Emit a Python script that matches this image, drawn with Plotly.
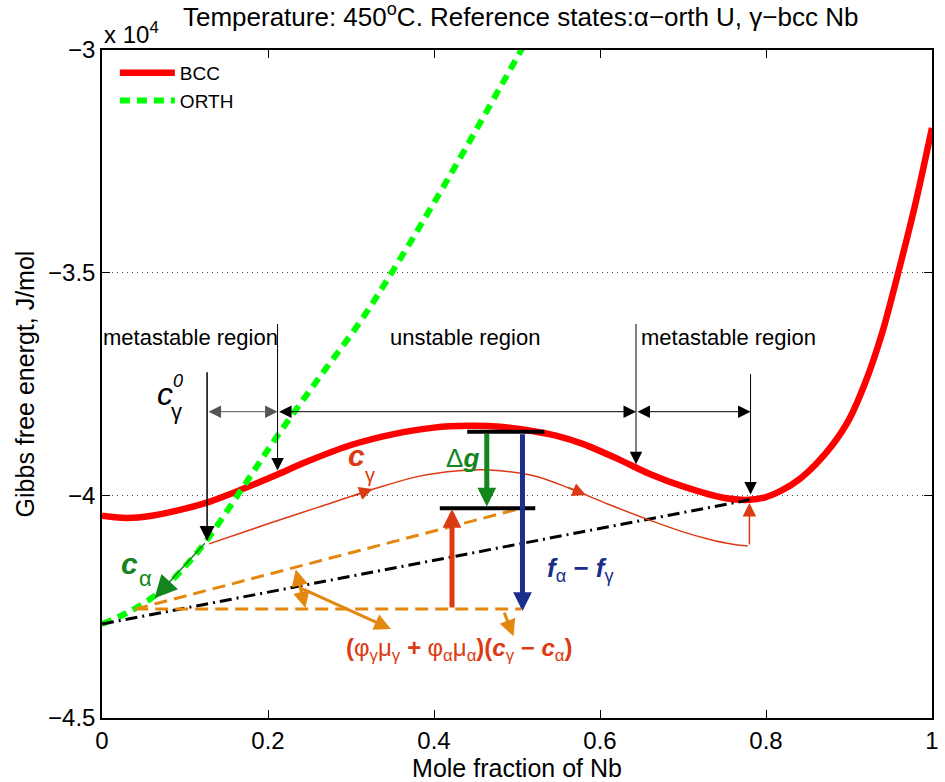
import plotly.graph_objects as go

# ---------------- data ----------------
X_BCC = [0.0, 0.03, 0.06, 0.10, 0.13, 0.16, 0.19, 0.2115, 0.25, 0.30, 0.35, 0.40, 0.44, 0.48,
         0.52, 0.547, 0.58, 0.62, 0.66, 0.70, 0.75, 0.78, 0.80, 0.82, 0.84, 0.86, 0.88,
         0.90, 0.92, 0.94, 0.96, 0.98, 1.0]
G_BCC = [-40460, -40510, -40460, -40300, -40140, -39930, -39700, -39530, -39220, -38870,
         -38630, -38480, -38440, -38460, -38560, -38660, -38850, -39170, -39520, -39800,
         -40060, -40100, -40040, -39880, -39640, -39300, -38870, -38300, -37450, -36350,
         -34950, -33450, -31750]

X_ORTH = [0.0, 0.03, 0.066, 0.10, 0.1255, 0.1685, 0.2115, 0.26, 0.312, 0.356, 0.416, 0.503, 0.55]
G_ORTH = [-42890, -42640, -42220, -41600, -41025, -39855, -38660, -37400, -36075, -34790,
          -32920, -30070, -28500]

X_TANGENT = [0.0, 0.78]
G_TANGENT = [-42890, -40100]

X_PATH = [0.129, 0.20, 0.26, 0.324, 0.38, 0.43, 0.467, 0.52, 0.567, 0.61, 0.663, 0.70, 0.73,
          0.76, 0.778]
G_PATH = [-41090, -40640, -40270, -39880, -39580, -39450, -39430, -39560, -39870, -40200,
          -40580, -40820, -40980, -41100, -41140]

X_OR_UPPER = [0.04, 0.503]
G_OR_UPPER = [-42555, -40300]
X_OR_LOWER = [0.04, 0.505]
G_OR_LOWER = [-42555, -42555]

X_SEG_TOP = [0.44, 0.533]
G_SEG_TOP = [-38570, -38570]
X_SEG_MID = [0.407, 0.522]
G_SEG_MID = [-40290, -40290]

C0_LEFT, SPIN_LEFT, SPIN_RIGHT, C0_RIGHT = 0.1266, 0.2115, 0.6434, 0.7814
X_TICKS = [0, 0.2, 0.4, 0.6, 0.8, 1.0]
X_TICKTEXT = ["0", "0.2", "0.4", "0.6", "0.8", "1"]
Y_TICKS = [-45000, -40000, -35000, -30000]
Y_TICKTEXT = ["\u22124.5", "\u22124", "\u22123.5", "\u22123"]

# ---------------- styles ----------------
FONT = "Liberation Sans, Arial, Helvetica, sans-serif"
RED = "#ff0000"
LIME = "#00ff00"
PATHRED = "#dc3a12"
ORANGE = "#e3870f"
DGREEN = "#12851c"
BLUE = "#1c2d8c"

fig = go.Figure()
fig.add_trace(go.Scatter(x=X_BCC, y=G_BCC, mode="lines", name="BCC",
                         line=dict(color=RED, width=6.5, shape="spline", smoothing=0.8)))
fig.add_trace(go.Scatter(x=X_ORTH, y=G_ORTH, mode="lines", name="ORTH",
                         line=dict(color=LIME, width=6, dash="10px,7px", shape="spline")))
fig.add_trace(go.Scatter(x=X_TANGENT, y=G_TANGENT, mode="lines", showlegend=False,
                         line=dict(color="black", width=3, dash="12px,5px,2px,5px")))
fig.add_trace(go.Scatter(x=X_PATH, y=G_PATH, mode="lines", showlegend=False,
                         line=dict(color=PATHRED, width=1.5, shape="spline")))
fig.add_trace(go.Scatter(x=X_OR_UPPER, y=G_OR_UPPER, mode="lines", showlegend=False,
                         line=dict(color=ORANGE, width=3, dash="13px,7px")))
fig.add_trace(go.Scatter(x=X_OR_LOWER, y=G_OR_LOWER, mode="lines", showlegend=False,
                         line=dict(color=ORANGE, width=3, dash="13px,7px")))
fig.add_trace(go.Scatter(x=X_SEG_TOP, y=G_SEG_TOP, mode="lines", showlegend=False,
                         line=dict(color="black", width=4)))
fig.add_trace(go.Scatter(x=X_SEG_MID, y=G_SEG_MID, mode="lines", showlegend=False,
                         line=dict(color="black", width=4)))

ann = []


def arrow(x0, y0, x1, y1, color, width, size, both=False, head=2):
    ann.append(dict(x=x1, y=y1, ax=x0, ay=y0, xref="x", yref="y", axref="x", ayref="y",
                    text="", showarrow=True, arrowhead=head, arrowsize=size,
                    arrowwidth=width, arrowcolor=color,
                    arrowside="end+start" if both else "end",
                    startarrowhead=head, startarrowsize=size))


def label(x, y, text, size, color="black"):
    ann.append(dict(x=x, y=y, xref="x", yref="y", text=text, showarrow=False,
                    xanchor="center", yanchor="middle",
                    font=dict(family=FONT, size=size, color=color)))


# region markers
Y_TOP, Y_ARR = -36120, -38122
arrow(SPIN_LEFT, Y_TOP, SPIN_LEFT, -39440, "black", 1, 2.5)
arrow(SPIN_RIGHT, Y_TOP, SPIN_RIGHT, -39300, "black", 1, 2.5)
arrow(C0_RIGHT, -37245, C0_RIGHT, -39980, "black", 1, 2.5)
arrow(C0_LEFT, -37200, C0_LEFT, -41025, "black", 1.5, 2)
arrow(C0_LEFT, Y_ARR, SPIN_LEFT, Y_ARR, "#555555", 1, 2.5, both=True)
arrow(SPIN_LEFT, Y_ARR, SPIN_RIGHT, Y_ARR, "black", 1, 2.5, both=True)
arrow(SPIN_RIGHT, Y_ARR, C0_RIGHT, Y_ARR, "black", 1, 2.5, both=True)

# path arrows
arrow(0.30, -40030, 0.326, -39855, PATHRED, 1.5, 1.8)
arrow(0.56, -39810, 0.583, -39990, PATHRED, 1.5, 1.8)
arrow(0.78, -41140, 0.78, -40170, PATHRED, 1.5, 1.8)
arrow(0.1255, -41040, 0.0633, -42310, DGREEN, 1.5, 3)

# driving-force arrows
arrow(0.4636, -38590, 0.4636, -40250, DGREEN, 5, 0.75)
arrow(0.5066, -38595, 0.5066, -42600, BLUE, 5, 0.75)
arrow(0.4217, -42555, 0.4217, -40305, PATHRED, 5, 0.75)

# orange arrows
arrow(0.233, -41630, 0.245, -42530, ORANGE, 3, 1.1, both=True)
arrow(0.239, -42080, 0.348, -43000, ORANGE, 3, 1.1)
arrow(0.4839, -42600, 0.4958, -43163, ORANGE, 3, 1.1)

# texts
label(0.107, -36458, "metastable region", 22)
label(0.437, -36458, "unstable region", 22)
label(0.7545, -36458, "metastable region", 22)
label(0.0753, -37718, "<i>c</i>", 32)
label(0.092, -37425, "<i>0</i>", 18)
label(0.0896, -38123, "\u03b3", 22)
label(0.307, -39113, "<b><i>c</i></b>", 30, PATHRED)
label(0.3226, -39540, "\u03b3", 20, PATHRED)
label(0.0335, -41520, "<b><i>c</i></b>", 30, DGREEN)
label(0.0526, -41858, "\u03b1", 22, DGREEN)
label(0.4349, -39158, "\u0394<b><i>g</i></b>", 26, DGREEN)
label(0.577, -41655, "<b><i>f</i></b><sub>\u03b1</sub> <b>\u2212</b> <b><i>f</i></b><sub>\u03b3</sub>",
      26, BLUE)
label(0.430, -43455,
      "<b>(</b>\u03c6<sub>\u03b3</sub>\u03bc<sub>\u03b3</sub> <b><i>+</i></b> "
      "\u03c6<sub>\u03b1</sub>\u03bc<sub>\u03b1</sub><b>)(<i>c</i></b><sub>\u03b3</sub> "
      "<b>\u2212</b> <b><i>c</i></b><sub>\u03b1</sub><b>)</b>", 24, PATHRED)

# exponent label
ann.append(dict(x=0, y=1.026, xref="paper", yref="paper", xanchor="left", yanchor="middle",
                text="x 10<sup>4</sup>", showarrow=False,
                font=dict(family=FONT, size=24, color="black")))

axis_common = dict(showline=True, linecolor="black", linewidth=1.5, mirror="ticks",
                   ticks="inside", ticklen=8, tickwidth=1, tickcolor="black",
                   tickfont=dict(family=FONT, size=24, color="black"), zeroline=False)

fig.update_layout(
    width=945, height=782,
    margin=dict(l=102, r=6, t=50, b=64),
    plot_bgcolor="white", paper_bgcolor="white",
    font=dict(family=FONT, color="black"),
    title=dict(text="Temperature: 450<sup>o</sup>C. Reference states:\u03b1\u2212orth U, \u03b3\u2212bcc Nb",
               x=0.551, xanchor="center", y=0.978, yanchor="middle", yref="container",
               font=dict(family=FONT, size=26, color="black")),
    xaxis=dict(range=[0, 1], tickvals=X_TICKS, ticktext=X_TICKTEXT, showgrid=False,
               title=dict(text="Mole fraction of Nb", font=dict(family=FONT, size=25), standoff=2),
               **axis_common),
    yaxis=dict(range=[-45000, -30000], tickvals=Y_TICKS, ticktext=Y_TICKTEXT, showgrid=True,
               gridcolor="#444444", griddash="1px,4px", gridwidth=1,
               title=dict(text="Gibbs free energt, J/mol", font=dict(family=FONT, size=25), standoff=6),
               **axis_common),
    legend=dict(x=0.0155, y=0.994, xanchor="left", yanchor="top", bgcolor="rgba(0,0,0,0)",
                itemwidth=55, font=dict(family=FONT, size=19, color="black"),
                tracegroupgap=0),
    annotations=ann,
    showlegend=True,
)

fig.write_html("out.html")
